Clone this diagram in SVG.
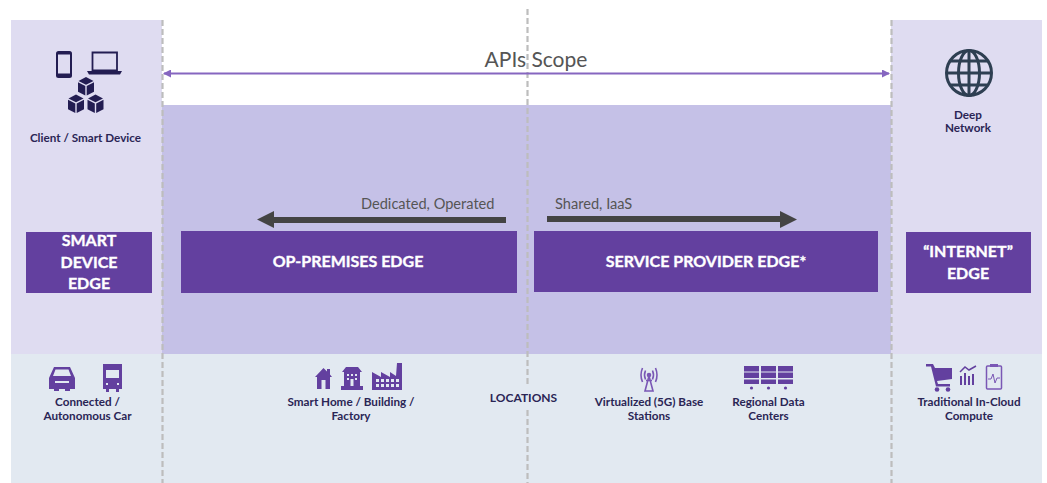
<svg xmlns="http://www.w3.org/2000/svg" width="1047" height="483" viewBox="0 0 1047 483">
<style>
text{font-family:Lato,"Open Sans","Liberation Sans",sans-serif;text-anchor:middle}
.cap{font-size:11.7px;font-weight:700;fill:#2a2555}
.head{font-size:16px;font-weight:700;fill:#fff;stroke:#fff;stroke-width:.35px}
.note{font-size:14.6px;fill:#555;text-anchor:start}
.pu{fill:#63409f}
.nv{fill:#231d52}
.cut{fill:#e2e9f1}
.dash{stroke:#bdbdbd;stroke-width:2.2;stroke-dasharray:6 3;fill:none}
</style>
<defs>
<marker id="a1" markerUnits="userSpaceOnUse" viewBox="0 0 8 8" refX="7" refY="4" markerWidth="8" markerHeight="8" orient="auto-start-reverse"><path d="M0 0L8 4L0 8Z" fill="#8666c0"/></marker>
<g id="cube"><path d="M0-8.500L7.500-4.500L0-.8L-7.500-4.500Z"/><path d="M-8-3.200L-.7.500V10L-8 6.300Z"/><path d="M8-3.200L.7.500V10L8 6.300Z"/></g>
</defs>
<g id="bands">
<rect x="11" y="20" width="151" height="334" fill="#dfdcf1"/>
<rect x="891" y="20" width="151" height="334" fill="#dfdcf1"/>
<rect x="162" y="105" width="729" height="249" fill="#c5c1e7"/>
<rect x="11" y="354" width="1031" height="129" fill="#e2e9f1"/>
</g>
<g id="connectors">
<path class="dash" d="M162.500 20V483"/>
<path class="dash" d="M891.500 20V483"/>
<path class="dash" d="M527.500 9V386M527.500 410V483"/>
<path d="M164 73.500H889" stroke="#8666c0" stroke-width="2.200" fill="none" marker-start="url(#a1)" marker-end="url(#a1)"/>
<path d="M506 217H274V211L257 219.500L274 228V223H506Z" fill="#444"/>
<path d="M547 216H780V211L797 219.500L780 228V222H547Z" fill="#444"/>
</g>
<g id="scope"><text x="536" y="67" font-size="21" fill="#555">APIs Scope</text></g>
<g id="smart-device">
<g id="icon-phone"><rect x="56" y="51" width="16" height="27" rx="2.500" class="nv"/><rect x="58" y="54.500" width="12" height="19" fill="#dfdcf1"/></g>
<g id="icon-laptop"><path d="M92.500 52.500H117V70.500H92.500Z" fill="#dfdcf1" stroke="#231d52" stroke-width="1.800"/><path d="M87 71H122L120 74.500H89Z" class="nv"/></g>
<g id="icon-cubes" fill="#231d52"><use href="#cube" x="86" y="85.500"/><use href="#cube" x="76" y="103"/><use href="#cube" x="95.500" y="103"/></g>
<text class="cap" x="85.500" y="141.500">Client / Smart Device</text>
<rect x="26" y="232" width="126" height="61" class="pu"/>
<text class="head" x="89" y="246">SMART</text><text class="head" x="89" y="268">DEVICE</text><text class="head" x="89" y="289">EDGE</text>
</g>
<g id="on-premises">
<rect x="181" y="231" width="336" height="62" class="pu"/>
<text class="head" x="348" y="267">OP-PREMISES EDGE</text>
<text class="note" x="361" y="209">Dedicated, Operated</text>
</g>
<g id="service-provider">
<rect x="534" y="231" width="344" height="61" class="pu"/>
<text class="head" x="706" y="267">SERVICE PROVIDER EDGE*</text>
<text class="note" x="555" y="209">Shared, IaaS</text>
</g>
<g id="internet">
<g id="icon-globe" fill="none" stroke="#2e3f52" stroke-width="3"><circle cx="969" cy="73" r="22.500"/><ellipse cx="969" cy="73" rx="10.500" ry="22.500"/><path d="M969 50.500V95.500M946.500 73H991.500M951 61H987M951 85H987"/></g>
<text class="cap" x="968" y="119">Deep</text><text class="cap" x="968" y="132">Network</text>
<rect x="906" y="232" width="125" height="61" class="pu"/>
<text class="head" x="968" y="257">“INTERNET”</text><text class="head" x="968" y="279">EDGE</text>
</g>
<g id="car-location">
<g id="icon-car"><path class="pu" d="M54 367H70L75 378V389H70V391H65V389H59V391H54V389H49V378Z"/><path class="cut" d="M55.500 369.500H68.500L71 376H53ZM55 381H69V383H55Z"/></g>
<g id="icon-truck"><path class="pu" d="M103 364H122V389H119V392H116V389H109V392H106V389H103Z"/><path class="cut" d="M106 370H119V378H106Z"/><path class="cut" d="M106 383H108V385H106ZM117 383H119V385H117Z"/></g>
<text class="cap" x="87.500" y="406">Connected /</text><text class="cap" x="87.500" y="420">Autonomous Car</text>
</g>
<g id="home-location">
<g id="icon-house"><path class="pu" d="M323.500 368L327 371.500V369H330V374.500L332 377H330V389H317V377H315Z"/><path class="cut" d="M321.500 380H325.500V389H321.500Z"/></g>
<g id="icon-building"><path class="pu" d="M346 367H358L362 372H360V386H363V390H341V386H344V372H342Z"/><path class="cut" d="M347 374H349V376H347ZM351 374H353V376H351ZM355 374H357V376H355ZM347 378H349V380H347ZM355 378H357V380H355ZM350.500 379H353.500V386H350.500Z"/></g>
<g id="icon-factory"><path class="pu" d="M372 372L381 377V372L390 377V372L396 376L397 363H402V390H372Z"/><path class="cut" d="M376 379H379V382H376ZM381 379H384V382H381ZM386 379H389V382H386ZM391 379H394V382H391ZM396 379H399V382H396ZM376 384H379V387H376ZM381 384H384V387H381ZM386 384H389V387H386ZM391 384H394V387H391ZM396 384H399V387H396Z"/></g>
<text class="cap" x="351" y="406">Smart Home / Building /</text><text class="cap" x="351" y="420">Factory</text>
</g>
<g id="locations"><text x="523.500" y="402" font-size="12" font-weight="700" fill="#2a2555">LOCATIONS</text></g>
<g id="base-station-location">
<g id="icon-antenna" fill="none" stroke="#7a57b5" stroke-width="1.600"><circle cx="649" cy="375" r="1.500" fill="#7a57b5"/><path d="M649 376L645 391H653ZM646 380.500H652M645.500 370.500Q643.500 375 645.500 379.500M652.500 370.500Q654.500 375 652.500 379.500M642.500 368Q639.500 375 642.500 382M655.500 368Q658.500 375 655.500 382"/></g>
<text class="cap" x="649" y="406">Virtualized (5G) Base</text><text class="cap" x="649" y="420">Stations</text>
</g>
<g id="datacenter-location">
<g id="icon-servers" class="pu"><path d="M744 366H759V371.500H744ZM744 372.500H759V378H744ZM744 379.500H759V384H744ZM761 366H776V371.500H761ZM761 372.500H776V378H761ZM761 379.500H776V384H761ZM778 366H793V371.500H778ZM778 372.500H793V378H778ZM778 379.500H793V384H778Z"/><circle cx="751.500" cy="388" r="1.600"/><circle cx="768.500" cy="388" r="1.600"/><circle cx="785.500" cy="388" r="1.600"/></g>
<text class="cap" x="768.500" y="406">Regional Data</text><text class="cap" x="768.500" y="420">Centers</text>
</g>
<g id="cloud-location">
<g id="icon-cart" class="pu"><path d="M926 364H933L935 368H952V379L937 381L938 384H950V386.500H936L931 366.500H926Z"/><circle cx="937" cy="389.500" r="2.300"/><circle cx="948" cy="389.500" r="2.300"/></g>
<g id="icon-chart" class="pu"><rect x="960" y="376" width="2" height="9"/><rect x="964" y="373" width="2" height="12"/><rect x="968" y="376" width="2" height="9"/><rect x="972" y="374" width="2" height="11"/><path d="M960 372L965 367L969 370L976 366" fill="none" stroke="#63409f" stroke-width="1.500"/></g>
<g id="icon-clipboard"><rect x="986.500" y="366" width="15" height="23" rx="1" fill="none" stroke="#7a57b5" stroke-width="1.500"/><path d="M990 364H998V367H990Z" fill="#7a57b5"/><path d="M988 379H991L993 374L995 383L997 378H1000" fill="none" stroke="#7a57b5"/></g>
<text class="cap" x="969" y="406">Traditional In-Cloud</text><text class="cap" x="969" y="420">Compute</text>
</g>
</svg>
